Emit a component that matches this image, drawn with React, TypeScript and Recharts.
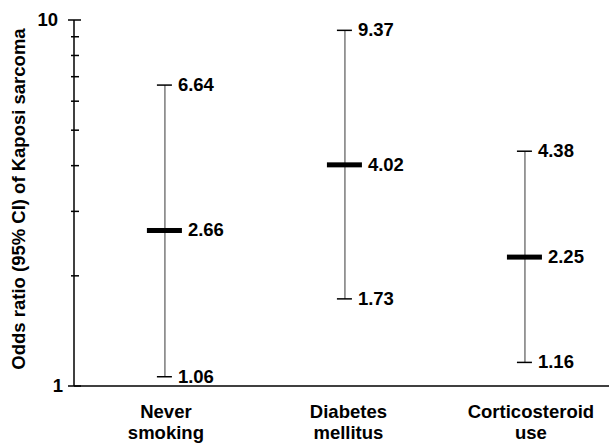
import React from "react";
import { ComposedChart, XAxis, YAxis, Scatter, ErrorBar, Label } from "recharts";

const categoryLines: string[][] = [
  ["Never", "smoking"],
  ["Diabetes", "mellitus"],
  ["Corticosteroid", "use"],
];
const categoryIndex = [0, 1, 2];
const oddsRatio = [2.66, 4.02, 2.25];
const lowerCI = [1.06, 1.73, 1.16];
const upperCI = [6.64, 9.37, 4.38];
const yTicks = [1, 2, 3, 4, 5, 6, 7, 8, 9, 10];
const yMajorLabels: Record<number, string> = { 1: "1", 10: "10" };
const yAxisTitle = "Odds ratio (95% CI) of Kaposi sarcoma";

const FONT = "'Liberation Sans', Arial, Helvetica, sans-serif";
const FS = 18.5;

const data = categoryIndex.map((x, i) => ({
  x,
  or: oddsRatio[i],
  lo: lowerCI[i],
  hi: upperCI[i],
  err: [oddsRatio[i] - lowerCI[i], upperCI[i] - oddsRatio[i]],
}));

const fmt = (v: number) => v.toFixed(2);

const YTick = (props: any) => {
  const { x, y, payload } = props;
  const v = payload.value as number;
  const major = yMajorLabels[v] !== undefined;
  return (
    <g>
      <line
        x1={major ? x - 6 : x - 3}
        x2={major ? x + 7 : x + 5}
        y1={y}
        y2={y}
        stroke="#000"
        strokeWidth={1.5}
      />
      {major && (
        <text
          x={v === 10 ? x - 16 : x - 11}
          y={y + 6}
          textAnchor="end"
          fontFamily={FONT}
          fontWeight="bold"
          fontSize={FS}
          fill="#000"
        >
          {yMajorLabels[v]}
        </text>
      )}
    </g>
  );
};

const XTick = (props: any) => {
  const { x, y, payload } = props;
  const idx = payload.value as number;
  const lines = categoryLines[idx] || [];
  return (
    <g>
      {lines.map((l, i) => (
        <text
          key={i}
          x={x + 1 + idx * 2.5}
          y={y + 32 + i * 21}
          textAnchor="middle"
          fontFamily={FONT}
          fontWeight="bold"
          fontSize={FS}
          fill="#000"
        >
          {l}
        </text>
      ))}
    </g>
  );
};

const capShape = (key: "lo" | "hi") => (props: any) => {
  const { cx, cy, payload } = props;
  return (
    <g>
      <line x1={cx - 8} x2={cx + 7} y1={cy} y2={cy} stroke="#000" strokeWidth={1.5} />
      <text
        x={cx + 13}
        y={cy + 6}
        fontFamily={FONT}
        fontWeight="bold"
        fontSize={FS}
        fill="#000"
      >
        {fmt(payload[key])}
      </text>
    </g>
  );
};

const medianShape = (props: any) => {
  const { cx, cy, payload } = props;
  return (
    <g>
      <rect x={cx - 18} y={cy - 2.5} width={35} height={5} fill="#000" />
      <text
        x={cx + 23}
        y={cy + 6}
        fontFamily={FONT}
        fontWeight="bold"
        fontSize={FS}
        fill="#000"
      >
        {fmt(payload.or)}
      </text>
    </g>
  );
};

const YTitle = () => (
  <text
    x={25}
    y={199}
    transform="rotate(-90, 25, 199)"
    textAnchor="middle"
    fontFamily={FONT}
    fontWeight="bold"
    fontSize={FS}
    fill="#000"
  >
    {yAxisTitle}
  </text>
);

export default function App() {
  return (
    <div style={{ position: "absolute", left: 0, top: 0, background: "#fff" }}>
      <ComposedChart
        width={609}
        height={444}
        data={data}
        margin={{ top: 20, right: 0, bottom: 0, left: 0 }}
      >
        <XAxis
          type="number"
          dataKey="x"
          domain={[-0.505, 2.467]}
          allowDataOverflow
          ticks={categoryIndex}
          interval={0}
          tick={<XTick />}
          tickLine={false}
          tickSize={0}
          tickMargin={0}
          axisLine={{ stroke: "#000", strokeWidth: 1.5 }}
          height={58}
        />
        <YAxis
          scale="log"
          domain={[1, 10]}
          allowDataOverflow
          ticks={yTicks}
          interval={0}
          tick={<YTick />}
          tickLine={false}
          tickSize={0}
          tickMargin={0}
          axisLine={{ stroke: "#000", strokeWidth: 1.5 }}
          width={74}
        >
          <Label content={<YTitle />} />
        </YAxis>
        <Scatter dataKey="or" shape={medianShape} isAnimationActive={false}>
          <ErrorBar dataKey="err" direction="y" width={0} stroke="#7a7a7a" strokeWidth={1.5} isAnimationActive={false} />
        </Scatter>
        <Scatter dataKey="lo" shape={capShape("lo")} isAnimationActive={false} />
        <Scatter dataKey="hi" shape={capShape("hi")} isAnimationActive={false} />
      </ComposedChart>
    </div>
  );
}
